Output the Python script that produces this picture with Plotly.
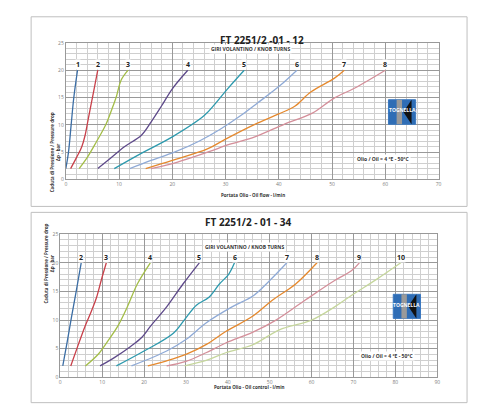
import plotly.graph_objects as go

# ---- chart 1: FT 2251/2 -01 - 12 ----
top_turns = ["1", "2", "3", "4", "5", "6", "7", "8"]
top_flow = [
    [0.0, 0.5, 1.0, 1.5, 2.2],
    [0.9, 2.0, 3.0, 3.6, 4.2, 4.8, 5.4, 6.0],
    [2.5, 4.0, 5.8, 7.5, 8.7, 9.5, 10.4, 11.7],
    [6.0, 8.5, 11.0, 14.2, 16.0, 18.0, 20.0, 22.9],
    [9.1, 14.0, 20.0, 26.0, 28.0, 30.3, 33.5],
    [12.0, 16.0, 20.4, 25.0, 29.0, 33.0, 36.0, 40.0, 43.4],
    [15.0, 20.0, 26.6, 30.0, 35.5, 40.0, 43.0, 46.0, 50.4, 52.3],
    [16.0, 21.0, 26.6, 31.0, 35.5, 41.0, 46.4, 50.4, 54.2, 60.0],
]
top_dp = [
    [2.0, 5.0, 10.0, 15.0, 20.0],
    [2.0, 4.0, 6.0, 8.0, 11.0, 14.0, 17.0, 20.0],
    [2.0, 4.0, 7.0, 10.0, 13.0, 15.2, 18.2, 20.0],
    [2.0, 4.0, 6.0, 8.1, 10.5, 13.5, 16.6, 20.0],
    [2.0, 4.7, 7.8, 11.7, 13.8, 16.5, 20.0],
    [2.0, 3.5, 5.0, 7.0, 9.2, 11.8, 14.0, 17.0, 20.0],
    [2.0, 3.5, 5.6, 7.4, 10.1, 12.0, 13.4, 16.0, 18.5, 20.0],
    [2.0, 3.2, 5.0, 6.5, 7.8, 10.1, 12.2, 14.9, 16.7, 20.0],
]
top_colors = ["#3c6ea5", "#c8404a", "#a3bd48", "#5e4a8a", "#2e9aae",
              "#8faad6", "#e5892e", "#d48f9a"]

# ---- chart 2: FT 2251/2 - 01 - 34 ----
bot_turns = ["2", "3", "4", "5", "6", "7", "8", "9", "10"]
bot_flow = [
    [0.6, 1.6, 2.7, 3.8, 5.0],
    [2.5, 4.2, 5.9, 7.4, 8.6, 9.8, 11.0],
    [6.0, 9.0, 11.3, 13.7, 16.0, 18.4, 21.5],
    [9.5, 13.0, 16.8, 19.5, 21.5, 25.4, 29.3, 33.2],
    [13.4, 20.0, 27.0, 30.0, 32.5, 35.5, 38.0, 40.2, 41.6],
    [17.0, 25.4, 30.0, 34.8, 41.0, 46.0, 50.0, 54.1],
    [20.9, 25.0, 30.0, 35.0, 39.5, 46.0, 50.7, 56.2, 61.3],
    [25.4, 30.0, 34.8, 39.5, 46.0, 51.5, 58.5, 65.5, 69.5, 71.4],
    [29.7, 35.0, 39.5, 46.0, 52.3, 60.0, 65.5, 69.5, 75.7, 81.3],
]
bot_dp = [
    [2.0, 6.0, 10.6, 15.0, 20.0],
    [2.0, 5.5, 8.9, 11.5, 13.8, 17.0, 20.0],
    [2.0, 4.0, 6.3, 8.9, 12.3, 16.3, 20.0],
    [2.0, 3.5, 5.4, 7.0, 8.9, 12.3, 16.3, 20.0],
    [2.0, 4.6, 7.7, 10.4, 12.6, 14.0, 16.3, 18.0, 20.0],
    [2.0, 4.6, 6.6, 9.5, 12.3, 14.2, 16.9, 20.0],
    [2.0, 2.8, 4.0, 5.8, 8.0, 10.7, 13.5, 16.3, 20.0],
    [2.0, 2.8, 4.3, 6.0, 7.9, 10.0, 13.5, 16.9, 18.6, 20.0],
    [2.0, 3.0, 4.3, 5.7, 8.3, 10.0, 12.3, 14.3, 17.2, 20.0],
]
bot_colors = ["#3c6ea5", "#c8404a", "#a3bd48", "#5e4a8a", "#2e9aae",
              "#8faad6", "#e5892e", "#d48f9a", "#c5d69c"]

FONT = "Open Sans"

fig = go.Figure()

for flow, dp, col in zip(top_flow, top_dp, top_colors):
    fig.add_trace(go.Scatter(x=flow, y=dp, mode="lines", line=dict(color=col, width=1.3),
                             line_shape="spline", showlegend=False, xaxis="x", yaxis="y"))
for flow, dp, col in zip(bot_flow, bot_dp, bot_colors):
    fig.add_trace(go.Scatter(x=flow, y=dp, mode="lines", line=dict(color=col, width=1.3),
                             line_shape="spline", showlegend=False, xaxis="x2", yaxis="y2"))

axis_common = dict(
    showgrid=True, gridcolor="#999999", gridwidth=0.8,
    zeroline=False, showline=True, linecolor="#999999", mirror=True,
    ticks="", tickfont=dict(size=5, color="#808080", family=FONT),
)
minor_x = dict(dtick=2, showgrid=True, gridcolor="#cfcfcf")
minor_y = dict(dtick=1, showgrid=True, gridcolor="#cfcfcf")

fig.update_layout(
    width=496, height=420,
    margin=dict(l=0, r=0, t=0, b=0),
    paper_bgcolor="white", plot_bgcolor="white",
    font=dict(family=FONT),
    xaxis=dict(domain=[0.1155, 0.873], anchor="y", range=[0, 70], dtick=10,
               minor=minor_x, **axis_common),
    yaxis=dict(domain=[0.593, 0.923], anchor="x", range=[0, 25], dtick=5,
               minor=minor_y, **axis_common),
    xaxis2=dict(domain=[0.1042, 0.8704], anchor="y2", range=[0, 90], dtick=10,
                minor=minor_x, **axis_common),
    yaxis2=dict(domain=[0.115, 0.461], anchor="x2", range=[0, 25], dtick=5,
                minor=minor_y, **axis_common),
)

# outer frames of the two charts
for y0, y1 in [(0.528, 0.986), (0.054, 0.5136)]:
    fig.add_shape(type="rect", xref="paper", yref="paper", x0=0.045, x1=0.931,
                  y0=y0, y1=y1, line=dict(color="#bfbfbf", width=1), fillcolor="rgba(0,0,0,0)")

# titles
fig.add_annotation(x=0.515, y=0.952, xref="paper", yref="paper", text="<b>FT 2251/2 -01 - 12</b>",
                   showarrow=False, font=dict(size=10, color="#222"))
fig.add_annotation(x=0.487, y=0.49, xref="paper", yref="paper", text="<b>FT 2251/2 - 01 - 34</b>",
                   showarrow=False, font=dict(size=10, color="#222"))

ytitle = "<b>Caduta di Pressione / Pressure drop<br>Δp - bar</b>"
fig.add_annotation(x=0.0766, y=0.7595, xref="paper", yref="paper", text=ytitle, textangle=-90,
                   showarrow=False, font=dict(size=4.5, color="#333"))
fig.add_annotation(x=0.0645, y=0.288, xref="paper", yref="paper", text=ytitle, textangle=-90,
                   showarrow=False, font=dict(size=4.5, color="#333"))
fig.add_annotation(x=0.496, y=0.555, xref="paper", yref="paper",
                   text="<b>Portata Olio - Oil flow - l/min</b>",
                   showarrow=False, font=dict(size=4.5, color="#333"))
fig.add_annotation(x=0.488, y=0.079, xref="paper", yref="paper",
                   text="<b>Portata Olio - Oil control - l/min</b>",
                   showarrow=False, font=dict(size=4.5, color="#333"))

# inside labels
fig.add_annotation(x=34.6, y=23.8, xref="x", yref="y", text="<b>GIRI VOLANTINO / KNOB TURNS</b>",
                   showarrow=False, bgcolor="white", font=dict(size=5, color="#333"))
fig.add_annotation(x=44.1, y=22.7, xref="x2", yref="y2", text="<b>GIRI VOLANTINO / KNOB TURNS</b>",
                   showarrow=False, bgcolor="white", font=dict(size=5, color="#333"))
fig.add_annotation(x=59.5, y=3.66, xref="x", yref="y", text="<b>Olio / Oil = 4 °E - 50°C</b>",
                   showarrow=False, bgcolor="white", font=dict(size=5, color="#333"))
fig.add_annotation(x=78.1, y=3.7, xref="x2", yref="y2", text="<b>Olio / Oil = 4 °E - 50°C</b>",
                   showarrow=False, bgcolor="white", font=dict(size=5, color="#333"))

# turn numbers at curve ends
for name, flow, dp in zip(top_turns, top_flow, top_dp):
    fig.add_annotation(x=flow[-1], y=dp[-1] + 1.0, xref="x", yref="y", text=f"<b>{name}</b>",
                       showarrow=False, bgcolor="white", borderpad=0,
                       font=dict(size=7, color="#222"))
for name, flow, dp in zip(bot_turns, bot_flow, bot_dp):
    fig.add_annotation(x=flow[-1], y=dp[-1] + 1.0, xref="x2", yref="y2", text=f"<b>{name}</b>",
                       showarrow=False, bgcolor="white", borderpad=0,
                       font=dict(size=7, color="#222"))


def add_logo(xr, yr, x0, x1, y0, y1):
    w = x1 - x0
    fig.add_shape(type="rect", xref=xr, yref=yr, x0=x0, x1=x1, y0=y0, y1=y1,
                  line=dict(color="#3a78c0", width=1), fillcolor="#2f6db5", layer="above")
    fig.add_shape(type="rect", xref=xr, yref=yr, x0=x0 + 0.3 * w, x1=x0 + 0.5 * w, y0=y0, y1=y1,
                  line=dict(width=0), fillcolor="#9a9a9a", layer="above")
    fig.add_shape(type="path", xref=xr, yref=yr,
                  path=f"M {x0 + 0.55 * w},{(y0 + y1) / 2} L {x0 + 0.85 * w},{y1} "
                       f"L {x0 + 0.85 * w},{y0} Z",
                  line=dict(width=0), fillcolor="#111", layer="above")
    fig.add_annotation(x=(x0 + x1) / 2, y=(y0 + y1) / 2 + 0.3, xref=xr, yref=yr,
                       text="<b>TOGNELLA</b>", showarrow=False,
                       font=dict(size=5, color="white"))


add_logo("x", "y", 60.6, 65.7, 10.1, 14.6)
add_logo("x2", "y2", 79.5, 86.0, 10.3, 14.5)

fig.write_html("out.html")
